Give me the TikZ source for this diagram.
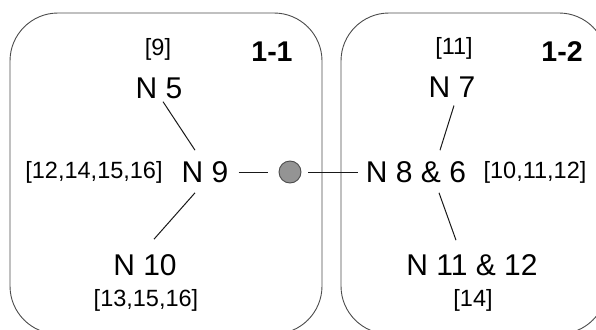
\documentclass[tikz,border=0pt]{standalone}
\usepackage{fontspec}
\setmainfont{Liberation Sans}
\usetikzlibrary{calc}
\begin{document}
\begin{tikzpicture}[x=1pt,y=-1pt,
  region/.style={draw=black!70,line width=0.9pt,rounded corners=48pt},
  nname/.style={inner sep=0pt,font=\fontsize{30}{34}\selectfont},
  nlist/.style={inner sep=0pt,font=\fontsize{23.5}{27}\selectfont},
  ntitle/.style={inner sep=0pt,font=\fontsize{28.5}{32}\selectfont\bfseries},
  link/.style={draw=black!90,line width=1pt},
  joint/.style={circle,minimum size=22pt,inner sep=0pt,fill=black!42,draw=black!70,line width=0.9pt}]
\clip (0,0) rectangle (596,329);
\useasboundingbox (0,0) rectangle (596,329);
\draw[region] (10,13) rectangle (322,334);
\draw[region] (341,13) rectangle (607,334);
% left region
\node[ntitle] (t11) at (272,52) {1-1};
\node[nlist] (l9) at (158,49) {[9]};
\node[nname] (n5) at (159,88) {N 5};
\node[nname] (n9) at (205,172) {N 9};
\node[nlist] (l9b) at (94,172) {[12,14,15,16]};
\node[nname] (n10) at (145,265) {N 10};
\node[nlist] (l10) at (146,300) {[13,15,16]};
% right region
\node[ntitle] (t12) at (562,52) {1-2};
\node[nlist] (l7) at (454,48) {[11]};
\node[nname] (n7) at (452,87) {N 7};
\node[nname] (n86) at (416,172) {N 8 \& 6};
\node[nlist] (l86) at (535,172) {[10,11,12]};
\node[nname] (n1112) at (472,265) {N 11 \& 12};
\node[nlist] (l1112) at (473,300) {[14]};
% joint
\node[joint] (j) at (290,172) {};
% connectors
\draw[link] ($(n5.south)+(4,3)$) -- ($(n9.north)+(-10,-11)$);
\draw[link] ($(n9.south)+(-10,10)$) -- ($(n10.north)+(9,-15)$);
\draw[link,shorten <=10pt,shorten >=11pt] (n9.east) -- (j.west);
\draw[link,shorten <=7pt,shorten >=8pt] (j.east) -- (n86.west);
\draw[link] ($(n7.south)+(2,8)$) -- ($(n86.north)+(24,-11)$);
\draw[link] ($(n86.south)+(23,10)$) -- ($(n1112.north)+(-16,-14)$);
\end{tikzpicture}
\end{document}
